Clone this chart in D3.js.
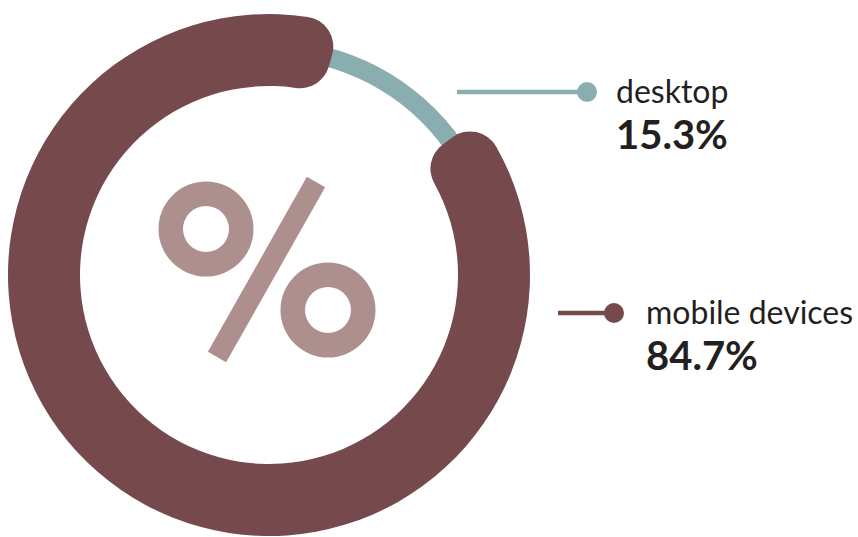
<!DOCTYPE html>
<html>
<head>
<meta charset="utf-8">
<script src="https://cdn.jsdelivr.net/npm/d3@7"></script>
<style>
  body { margin: 0; background: #fff; }
  svg { display: block; }
  .lbl { font-family: Lato, "Open Sans", sans-serif; fill: #231f20; }
</style>
</head>
<body>
<script>
// device share data
var categories = ["desktop", "mobile devices"];
var shares = [15.3, 84.7];
var colors = ["#8aaeb0", "#764a4c"];

var width = 858, height = 537;
var cx = 269, cy = 275;

var svg = d3.select("body").append("svg")
    .attr("width", width)
    .attr("height", height);

var g = svg.append("g").attr("transform", "translate(" + cx + "," + cy + ")");

var rad = Math.PI / 180;
var start = 7 * rad;

var pie = d3.pie()
    .sort(null)
    .startAngle(start)
    .endAngle(start + 2 * Math.PI)
    .value(function(d) { return d; });

var slices = pie(shares);

// thin arc for desktop
var thinArc = d3.arc().innerRadius(216).outerRadius(235);
// thick arc for mobile, rounded ends sticking out over the thin one
var ext = 9 * rad;
var thickArc = d3.arc().innerRadius(189).outerRadius(261).cornerRadius(30);

g.append("path")
  .attr("d", thinArc(slices[0]))
  .style("fill", colors[0]);

g.append("path")
  .attr("d", thickArc({startAngle: slices[1].startAngle - ext, endAngle: slices[1].endAngle + ext}))
  .style("fill", colors[1]);

// percent icon in the middle
var icon = g.append("g").style("fill", "#ad8f8e").style("stroke", "#ad8f8e");
var ring = d3.arc().innerRadius(23).outerRadius(47.5).startAngle(0).endAngle(2 * Math.PI);
icon.append("path").attr("d", ring()).attr("transform", "translate(-63,-46)").style("stroke", "none");
icon.append("path").attr("d", ring()).attr("transform", "translate(59,35)").style("stroke", "none");
icon.append("line")
    .attr("x1", 47).attr("y1", -93)
    .attr("x2", -52).attr("y2", 82)
    .style("stroke-width", 21);

// labels
var labels = [
  {x: 616, y: 103, lineFrom: 457, dot: 587, dotY: 92},
  {x: 646, y: 324, lineFrom: 558, dot: 614, dotY: 313}
];

labels.forEach(function(l, i) {
  svg.append("line")
     .attr("x1", l.lineFrom).attr("y1", l.dotY)
     .attr("x2", l.dot).attr("y2", l.dotY)
     .style("stroke", colors[i])
     .style("stroke-width", 4.5);
  svg.append("circle")
     .attr("cx", l.dot).attr("cy", l.dotY)
     .attr("r", 10)
     .style("fill", colors[i]);
  svg.append("text")
     .attr("class", "lbl")
     .attr("x", l.x).attr("y", l.y)
     .style("font-size", "32px")
     .text(categories[i]);
  svg.append("text")
     .attr("class", "lbl")
     .attr("x", l.x).attr("y", l.y + 46)
     .style("font-size", "40px")
     .style("font-weight", "bold")
     .text(shares[i] + "%");
});
</script>
</body>
</html>
